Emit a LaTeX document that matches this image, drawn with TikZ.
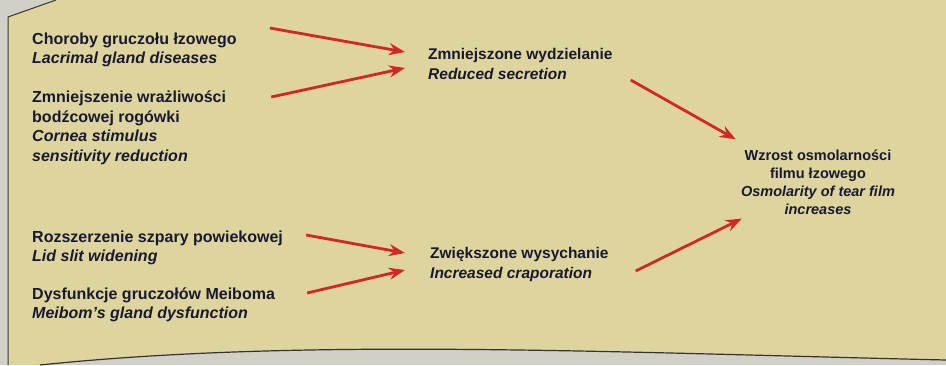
\documentclass[tikz,border=0pt]{standalone}
\usepackage{fontspec}
\setmainfont{Liberation Sans}
\usetikzlibrary{arrows.meta, calc, positioning}
\definecolor{papier}{RGB}{222,213,158}
\definecolor{tlo}{RGB}{208,207,200}
\definecolor{tusz}{RGB}{24,24,48}
\definecolor{czerwony}{RGB}{212,38,36}
\begin{document}
\begin{tikzpicture}[x=1pt,y=1pt,
    opis/.style={align=left,anchor=west,text=tusz,inner sep=2pt,
        font=\fontsize{16}{19.5}\selectfont\bfseries},
    skutek/.style={align=center,text=tusz,inner sep=2pt,
        font=\fontsize{14.5}{18}\selectfont\bfseries},
    strz/.style={-{Stealth[length=16pt,width=12pt]},line width=2.8pt,czerwony}]
    \useasboundingbox (0,-365) rectangle (946,0);
    \fill[tlo] (0,-365) rectangle (946,0); %tło
    \fill[papier] (8,-365) -- (8,-17) -- (56,0) -- (946,0) -- (946,-360)
        .. controls (600,-352) and (300,-338) .. (40,-365) -- cycle; %kartka
    \draw[line width=1pt,black!80] (8,-365) -- (8,-17) -- (56,0); %ramka
    \draw[line width=1.2pt,black!80] (40,-365) .. controls (300,-338) and (600,-352) .. (946,-360);

    \node[opis] (choroby) at (30,-50) {Choroby gruczołu łzowego\\{\itshape Lacrimal gland diseases}};
    \node[opis] (rogowka) at (30,-128) {Zmniejszenie wrażliwości\\bodźcowej rogówki\\{\itshape Cornea stimulus}\\{\itshape sensitivity reduction}};
    \node[opis] (szpara) at (30,-248) {Rozszerzenie szpary powiekowej\\{\itshape Lid slit widening}};
    \node[opis] (meibom) at (30,-305) {Dysfunkcje gruczołów Meiboma\\{\itshape Meibom's gland dysfunction}};
    \node[opis,font=\fontsize{15.5}{20}\selectfont\bfseries] (wydz) at (426,-64) {Zmniejszone wydzielanie\\{\itshape Reduced secretion}};
    \node[opis,font=\fontsize{15.5}{20}\selectfont\bfseries] (wysych) at (428,-264) {Zwiększone wysychanie\\{\itshape Increased craporation}};
    \node[skutek] (osmo) at (818,-182) {Wzrost osmolarności\\filmu łzowego\\{\itshape Osmolarity of tear film}\\{\itshape increases}};

    \draw[strz] ([shift={(31,22)}]choroby.east) -- ([shift={(-21,12)}]wydz.west);
    \draw[strz] ([shift={(43,31)}]rogowka.east) -- ([shift={(-21,-4)}]wydz.west);
    \draw[strz] ([shift={(21,13)}]szpara.east) -- ([shift={(-23,11)}]wysych.west);
    \draw[strz] ([shift={(30,12)}]meibom.east) -- ([shift={(-23,-6)}]wysych.west);
    \draw[strz] ([shift={(16,-16)}]wydz.east) -- ([shift={(-3,8)}]osmo.north west);
    \draw[strz] ([shift={(25,-7)}]wysych.east) -- ([shift={(3,-2)}]osmo.south west);
\end{tikzpicture}
\end{document}
